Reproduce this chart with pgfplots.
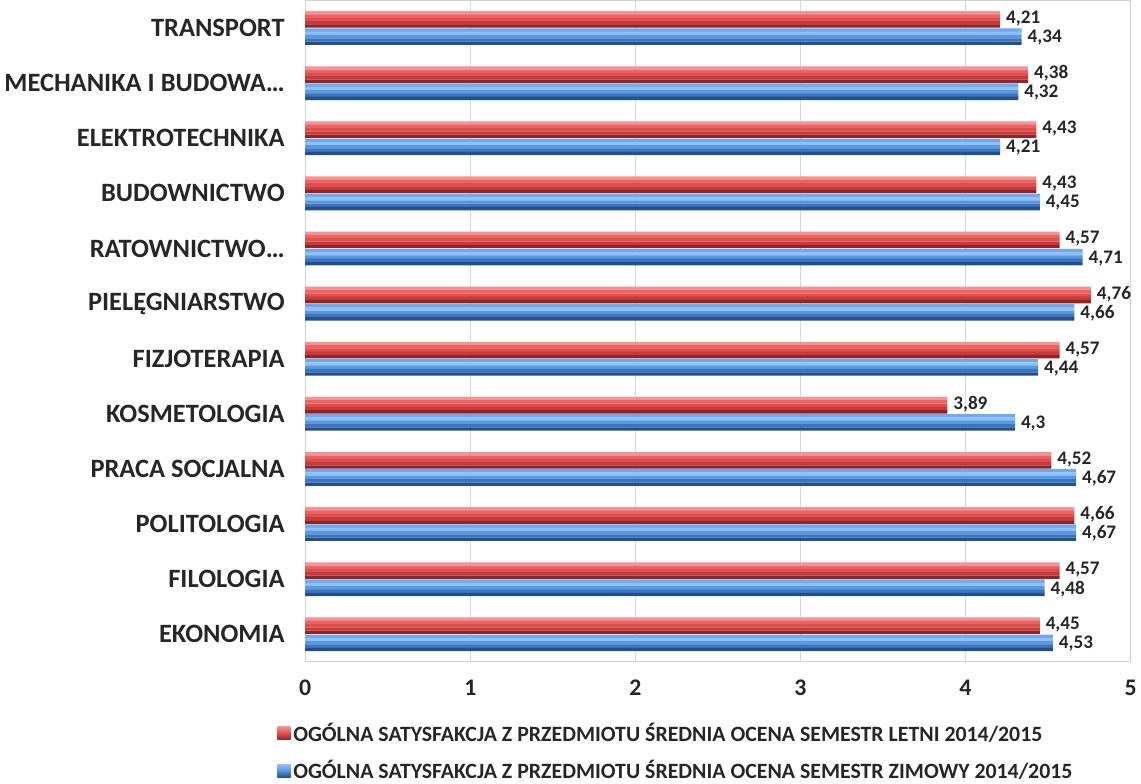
\documentclass[border=0pt]{standalone}
\usepackage{pgfplots}
\pgfplotsset{compat=1.18}
\usepackage{fontspec}
\setmainfont{Carlito}
\definecolor{ra}{HTML}{F59292}
\definecolor{rb}{HTML}{EB6464}
\definecolor{rc}{HTML}{E04E4E}
\definecolor{rd}{HTML}{C63A3A}
\definecolor{re}{HTML}{922424}
\definecolor{ba}{HTML}{6FA8EC}
\definecolor{bb}{HTML}{8EC2F7}
\definecolor{bc}{HTML}{5A98E2}
\definecolor{bd}{HTML}{3C74BE}
\definecolor{be}{HTML}{22508A}
\pgfplotstableread{
y letni zimowy
0 4.45 4.53
1 4.57 4.48
2 4.66 4.67
3 4.52 4.67
4 3.89 4.30
5 4.57 4.44
6 4.76 4.66
7 4.57 4.71
8 4.43 4.45
9 4.43 4.21
10 4.38 4.32
11 4.21 4.34
}\data
\begin{document}
\begin{tikzpicture}
\begin{axis}[
  scale only axis,
  width=624pt, height=500pt,
  xmin=0, xmax=5, ymin=-0.5, ymax=11.5,
  xtick={0,1,2,3,4,5},
  ytick={0,...,11},
  yticklabels={EKONOMIA,FILOLOGIA,POLITOLOGIA,PRACA SOCJALNA,KOSMETOLOGIA,FIZJOTERAPIA,PIELĘGNIARSTWO,RATOWNICTWO…,BUDOWNICTWO,ELEKTROTECHNIKA,MECHANIKA I BUDOWA…,TRANSPORT},
  major tick length=0pt,
  xmajorgrids, grid style={gray!30, line width=0.8pt},
  axis line style={gray!35, line width=0.8pt},
  /pgf/number format/assume math mode=true,
  yticklabel style={font=\bfseries\fontsize{20}{20}\selectfont, text=black!85, xshift=-12pt},
  xticklabel style={font=\bfseries\fontsize{18}{18}\selectfont, text=black!85, yshift=-10pt},
  legend style={at={(-0.034,-0.088)}, anchor=north west, draw=none, fill=none,
    font=\bfseries\fontsize{16.5}{16.5}\selectfont, text=black!85,
    row sep=9pt, inner sep=0pt},
  legend cell align=left,
  every axis plot/.append style={draw=none, mark=none},
  lbl/.style={nodes near coords={\pgfmathprintnumber[use comma,fixed,precision=2,assume math mode=true]{\pgfplotspointmeta}},
    point meta=x, forget plot,
    nodes near coords style={font=\bfseries\fontsize{14.5}{14.5}\selectfont, text=black!85, anchor=west, xshift=1pt, yshift=#1}},
]
% red bars (summer), strips top to bottom
\addplot[xbar, forget plot, bar width=2.6pt, bar shift=11.5pt, fill=ra] table[x=letni,y=y]{\data};
\addplot[xbar, forget plot, bar width=2.6pt, bar shift=9pt, fill=rb] table[x=letni,y=y]{\data};
\addplot[xbar, forget plot, bar width=2.6pt, bar shift=6.5pt, fill=rc] table[x=letni,y=y]{\data};
\addplot[xbar, forget plot, bar width=2.6pt, bar shift=4pt, fill=rd] table[x=letni,y=y]{\data};
\addplot[xbar, forget plot, bar width=2.5pt, bar shift=1.5pt, fill=re] table[x=letni,y=y]{\data};
% blue bars (winter)
\addplot[xbar, forget plot, bar width=2.6pt, bar shift=-1.5pt, fill=ba] table[x=zimowy,y=y]{\data};
\addplot[xbar, forget plot, bar width=2.6pt, bar shift=-4pt, fill=bb] table[x=zimowy,y=y]{\data};
\addplot[xbar, forget plot, bar width=2.6pt, bar shift=-6.5pt, fill=bc] table[x=zimowy,y=y]{\data};
\addplot[xbar, forget plot, bar width=2.6pt, bar shift=-9pt, fill=bd] table[x=zimowy,y=y]{\data};
\addplot[xbar, forget plot, bar width=2.5pt, bar shift=-11.5pt, fill=be] table[x=zimowy,y=y]{\data};
% value labels
\addplot[lbl=7.3pt] table[x=letni,y=y]{\data};
\addplot[lbl=-7.3pt] table[x=zimowy,y=y]{\data};
\addlegendimage{legend image code/.code={\path[top color=ra,bottom color=re,middle color=rc] (0pt,-5pt) rectangle (10pt,5pt);}}
\addlegendentry{OGÓLNA SATYSFAKCJA Z PRZEDMIOTU ŚREDNIA OCENA SEMESTR LETNI 2014/2015}
\addlegendimage{legend image code/.code={\path[top color=bb,bottom color=be,middle color=bc] (0pt,-5pt) rectangle (10pt,5pt);}}
\addlegendentry{OGÓLNA SATYSFAKCJA Z PRZEDMIOTU ŚREDNIA OCENA SEMESTR ZIMOWY 2014/2015}
\end{axis}
\end{tikzpicture}
\end{document}
